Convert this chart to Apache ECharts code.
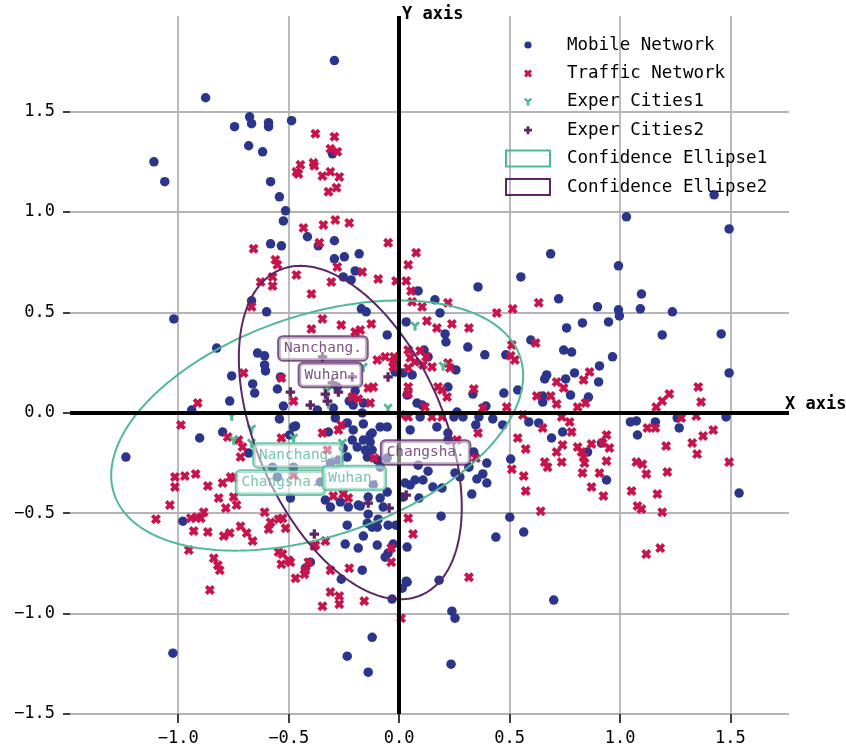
<!DOCTYPE html>
<html><head><meta charset="utf-8">
<script src="https://cdn.jsdelivr.net/npm/echarts@6/dist/echarts.min.js"></script>
<style>html,body{margin:0;padding:0;background:#fff}#c{width:846px;height:750px}</style>
</head><body><div id="c"></div><script>
// ---- tick labels ----
const xTicks = [-1.0, -0.5, 0.0, 0.5, 1.0, 1.5];
const yTicks = [-1.5, -1.0, -0.5, 0.0, 0.5, 1.0, 1.5];
const seriesNames = ['Mobile Network','Traffic Network','Exper Cities1','Exper Cities2','Confidence Ellipse1','Confidence Ellipse2'];

// ---- series values [x, y] ----
const mobileNetwork = [[-0.293,1.753],[-0.876,1.568],[-1.110,1.249],[-1.061,1.150],[-0.677,1.473],[-0.745,1.424],[-0.668,1.439],[-0.591,1.444],[-0.591,1.424],[-0.487,1.454],[-0.681,1.329],[-0.618,1.299],[-0.302,1.289],[-0.582,1.150],[-0.542,1.075],[-0.514,1.005],[-0.524,0.955],[-0.415,0.876],[-0.293,0.856],[-0.582,0.841],[-0.533,0.831],[-0.366,0.831],[1.426,1.085],[1.029,0.975],[1.494,0.915],[0.686,0.791],[0.993,0.731],[0.551,0.676],[0.357,0.626],[0.722,0.567],[1.097,0.591],[1.092,0.517],[0.993,0.512],[0.997,0.482],[1.237,0.502],[0.162,0.562],[0.185,0.497],[0.898,0.527],[0.830,0.447],[0.948,0.452],[0.758,0.422],[1.191,0.387],[1.458,0.392],[0.596,0.362],[0.208,0.392],[0.212,0.352],[0.311,0.327],[0.388,0.288],[0.483,0.288],[0.745,0.312],[0.781,0.302],[0.966,0.278],[1.494,0.198],[0.907,0.233],[0.794,0.198],[0.668,0.188],[0.659,0.168],[0.754,0.168],[0.903,0.153],[0.257,0.213],[0.221,0.128],[0.334,0.093],[0.474,0.098],[0.537,0.113],[0.776,0.088],[0.857,0.078],[0.650,0.083],[0.650,0.053],[0.393,0.033],[0.262,0.003],[0.289,-0.021],[0.361,-0.021],[0.424,-0.031],[0.469,-0.061],[0.347,-0.061],[0.248,-0.021],[0.171,-0.071],[0.221,-0.101],[0.104,0.038],[0.095,-0.021],[0.587,-0.046],[0.632,-0.051],[1.047,-0.046],[1.074,-0.041],[1.160,-0.046],[1.079,-0.111],[1.259,-0.026],[1.268,-0.076],[1.480,-0.021],[0.740,-0.096],[0.690,-0.126],[0.853,-0.196],[0.916,-0.151],[0.505,-0.231],[0.397,-0.251],[0.338,-0.196],[0.379,-0.305],[0.352,-0.330],[0.397,-0.350],[0.253,-0.300],[0.131,-0.291],[0.108,-0.335],[0.153,-0.370],[0.194,-0.375],[0.329,-0.405],[0.939,-0.335],[1.539,-0.400],[0.086,0.606],[0.032,0.452],[0.059,0.188],[0.018,0.198],[0.081,0.048],[0.050,-0.086],[0.113,0.312],[0.131,0.278],[0.564,-0.594],[0.438,-0.619],[0.501,-0.520],[0.190,-0.515],[0.316,-0.271],[0.275,-0.320],[0.072,-0.335],[0.050,-0.360],[0.090,-0.425],[0.086,-0.261],[0.036,-0.669],[0.036,-0.844],[0.181,-0.834],[0.239,-0.988],[0.253,-1.023],[0.221,-0.136],[0.700,-0.933],[0.235,-1.252],[-0.979,-0.540],[-1.024,-1.197],[-0.235,-1.212],[-0.140,-1.292],[-0.122,-1.118],[-0.032,-0.928],[0.014,-0.874],[0.032,-0.839],[-0.167,-0.784],[-0.262,-0.829],[-0.185,-0.674],[-0.244,-0.654],[-0.162,-0.614],[-0.027,-0.654],[-0.050,-0.699],[-0.063,-0.719],[-0.235,-0.560],[-0.140,-0.505],[-0.144,-0.550],[-0.122,-0.570],[-0.099,-0.570],[-0.095,-0.530],[-0.014,-0.560],[-0.072,-0.470],[-0.185,-0.460],[-0.230,-0.470],[-0.311,-0.470],[-0.402,-0.744],[-0.424,-0.774],[-0.190,-0.171],[-0.153,-0.186],[-0.122,-0.186],[-0.144,-0.221],[-0.099,-0.236],[-0.054,-0.226],[-0.253,-0.176],[-0.235,-0.221],[-0.212,-0.136],[-0.162,-0.136],[-0.131,-0.146],[-0.054,-0.395],[-0.086,-0.425],[-0.140,-0.420],[-0.176,-0.465],[-0.334,-0.435],[-0.266,-0.445],[-0.050,-0.560],[-0.099,-0.659],[-0.275,-0.236],[-0.478,-0.271],[-0.357,-0.345],[-1.020,0.467],[-0.826,0.322],[-1.237,-0.221],[-0.939,0.013],[-0.903,-0.126],[-0.799,-0.096],[-0.767,0.058],[-0.758,0.183],[-0.668,0.557],[-0.600,0.502],[-0.641,0.297],[-0.609,0.283],[-0.609,0.238],[-0.605,0.208],[-0.663,0.143],[-0.654,0.098],[-0.551,0.118],[-0.537,0.178],[-0.524,0.033],[-0.542,-0.031],[-0.478,-0.071],[-0.496,-0.111],[-0.681,-0.201],[-0.054,0.387],[-0.171,0.517],[-0.149,0.502],[-0.199,0.706],[-0.181,0.791],[-0.248,0.776],[-0.293,0.766],[-0.253,0.676],[-0.217,0.661],[-0.199,0.108],[-0.226,0.058],[-0.018,0.203],[0.036,0.088],[-0.023,0.248],[-0.370,0.013],[-0.298,0.023],[-0.289,-0.026],[-0.235,-0.051],[-0.167,-0.001],[-0.086,-0.071],[-0.054,-0.071],[-0.122,-0.101],[-0.208,0.038],[-0.162,0.048],[-0.280,0.128],[-0.469,-0.066],[-0.320,-0.096],[-0.208,-0.086],[-0.162,-0.056],[-0.131,-0.111],[-0.086,-0.271],[-0.117,-0.360],[0.018,-0.420],[0.027,-0.350],[-0.573,-0.271],[-0.551,-0.320],[-0.311,-0.251],[-0.492,-0.425]];

const trafficNetwork = [[-0.379,1.389],[-0.293,1.374],[-0.311,1.314],[-0.280,1.299],[-0.447,1.234],[-0.465,1.199],[-0.456,1.189],[-0.388,1.244],[-0.384,1.229],[-0.347,1.179],[-0.311,1.199],[-0.271,1.174],[-0.320,1.100],[-0.284,1.120],[-0.289,0.960],[-0.226,0.945],[-0.343,0.935],[-0.433,0.920],[-0.361,0.846],[-0.050,0.846],[-0.659,0.816],[-0.560,0.761],[-0.551,0.736],[-0.573,0.676],[-0.627,0.651],[-0.573,0.631],[-0.465,0.686],[-0.307,0.651],[-0.397,0.591],[-0.280,0.726],[-0.167,0.701],[-0.095,0.666],[-0.014,0.656],[0.032,0.656],[0.041,0.736],[-0.668,0.527],[-0.347,0.467],[-0.397,0.417],[-0.262,0.437],[-0.126,0.442],[-0.199,0.402],[-0.176,0.412],[-0.099,0.263],[-0.063,0.278],[-0.023,0.278],[-0.027,0.253],[-0.027,0.228],[0.041,0.312],[0.050,0.273],[0.072,0.253],[0.041,0.223],[-0.704,0.198],[-0.533,0.173],[-0.140,0.123],[-0.117,0.128],[-0.212,0.078],[-0.185,0.068],[-0.131,0.048],[-0.912,0.048],[-0.988,-0.061],[-0.478,0.058],[-0.262,-0.061],[-0.275,-0.086],[-0.347,-0.101],[0.041,0.093],[0.009,-0.011],[-0.776,-0.121],[-0.727,-0.136],[-0.709,-0.171],[-0.718,-0.221],[-0.533,-0.126],[-1.015,-0.320],[-1.015,-0.370],[-0.970,-0.315],[-0.921,-0.305],[-0.866,-0.365],[-0.817,-0.425],[-0.763,-0.320],[-0.799,-0.350],[-0.749,-0.325],[-0.749,-0.420],[-0.785,-0.475],[-0.736,-0.460],[-1.038,-0.460],[-1.101,-0.530],[-0.943,-0.525],[-0.916,-0.520],[-0.898,-0.525],[-0.885,-0.495],[-0.930,-0.589],[-0.866,-0.594],[-0.794,-0.614],[-0.767,-0.599],[-0.718,-0.565],[-0.690,-0.599],[-0.663,-0.639],[-0.609,-0.495],[-0.582,-0.545],[-0.591,-0.580],[-0.546,-0.530],[-0.952,-0.684],[-0.839,-0.724],[-0.821,-0.759],[-0.812,-0.784],[-0.857,-0.883],[-0.546,-0.694],[-0.528,-0.704],[-0.533,-0.754],[-0.492,-0.744],[-0.469,-0.824],[-0.429,-0.804],[-0.384,-0.664],[-0.334,-0.639],[-0.311,-0.784],[-0.226,-0.774],[-0.311,-0.893],[-0.271,-0.913],[-0.271,-0.953],[-0.347,-0.963],[-0.158,-0.938],[-0.036,-0.674],[-0.036,-0.744],[0.063,-0.604],[0.041,-0.525],[0.009,-1.023],[-0.298,-0.415],[-0.253,-0.405],[-0.230,-0.425],[-0.514,-0.575],[-0.528,-0.525],[-0.379,-0.659],[-0.501,-0.734],[-0.411,-0.744],[-0.424,-0.784],[-0.325,-0.186],[-0.478,-0.310],[-0.113,-0.226],[0.077,0.796],[0.054,0.606],[0.059,0.552],[0.104,0.527],[0.221,0.547],[0.126,0.457],[0.171,0.422],[0.239,0.442],[0.316,0.422],[0.442,0.497],[0.514,0.517],[0.095,0.307],[0.122,0.278],[0.108,0.238],[0.149,0.228],[0.221,0.248],[0.230,0.223],[0.510,0.337],[0.505,0.283],[0.524,0.263],[0.041,0.128],[0.176,0.128],[0.194,0.113],[0.217,0.078],[0.338,0.118],[0.117,0.028],[0.379,0.023],[0.487,0.028],[0.560,-0.011],[0.041,-0.021],[0.149,-0.021],[0.194,-0.021],[0.357,-0.101],[0.632,0.547],[0.618,0.347],[0.862,0.203],[0.835,0.163],[0.713,0.153],[0.745,0.123],[0.623,0.083],[0.686,0.083],[0.713,0.043],[0.808,0.028],[0.844,0.048],[1.223,0.093],[1.191,0.058],[1.164,0.028],[1.354,0.128],[1.367,0.053],[1.277,-0.026],[1.345,-0.016],[0.736,-0.021],[0.772,-0.046],[0.650,-0.076],[0.537,-0.126],[0.573,-0.181],[0.781,-0.096],[0.740,-0.161],[0.713,-0.196],[0.808,-0.171],[0.826,-0.196],[0.871,-0.156],[0.921,-0.151],[0.939,-0.111],[0.952,-0.176],[0.939,-0.241],[0.835,-0.221],[0.839,-0.251],[0.830,-0.300],[0.736,-0.246],[0.659,-0.246],[0.672,-0.271],[0.510,-0.281],[0.564,-0.315],[0.573,-0.390],[0.871,-0.370],[0.907,-0.300],[0.925,-0.415],[1.052,-0.390],[1.074,-0.246],[1.101,-0.256],[1.119,-0.305],[1.124,-0.076],[1.160,-0.076],[1.209,-0.166],[1.214,-0.295],[1.169,-0.405],[1.327,-0.151],[1.349,-0.206],[1.376,-0.116],[1.422,-0.086],[1.494,-0.246],[0.641,-0.490],[1.079,-0.465],[1.097,-0.480],[1.191,-0.495],[1.119,-0.704],[1.182,-0.674],[0.316,-0.819],[0.262,-0.136],[0.347,-0.226]];

const experCities1 = [[0.072,0.432],[-0.162,0.228],[-0.325,0.108],[-0.320,0.043],[-0.758,-0.016],[-0.668,-0.081],[-0.478,-0.126],[-0.050,0.023],[-0.257,-0.151],[-0.749,-0.136],[-0.668,-0.151],[0.199,0.233]];
const experCities2 = [[-0.050,0.178],[-0.492,0.103],[-0.402,0.038],[-0.275,0.103],[-0.334,0.093],[-0.325,0.058],[-0.140,-0.450],[-0.045,-0.475],[-0.384,-0.604],[-0.302,0.148],[-0.347,0.278],[-0.212,0.178],[0.032,-0.410]];

// ---- confidence ellipses: center, semi-axes, rotation (deg) ----
const ellipseCx = [-0.371, -0.221];
const ellipseCy = [-0.064, -0.099];
const ellipseSemiMajor = [0.981, 0.871];
const ellipseSemiMinor = [0.543, 0.430];
const ellipseAngle = [21.9, -69.6];

// ---- city annotations ----
const cityNames1 = ['Nanchang.', 'Changsha.', 'Wuhan.'];
const cityX1 = [-0.458, -0.537, -0.203];
const cityY1 = [-0.213, -0.348, -0.325];
const cityNames2 = ['Nanchang.', 'Wuhan.', 'Changsha.'];
const cityX2 = [-0.345, -0.311, 0.120];
const cityY2 = [0.320, 0.188, -0.198];

// ---- styles ----
const C_NAVY = '#2b358c', C_RED = '#c8134b', C_GREEN = '#4fb894', C_PURPLE = '#5b2566';
const MONO = 'DejaVu Sans Mono';
const P_X = 'M0,2.7 L2.7,0 L5,2.3 L7.3,0 L10,2.7 L7.7,5 L10,7.3 L7.3,10 L5,7.7 L2.7,10 L0,7.3 L2.3,5 Z';
const P_Y = 'M0,2.1 L2.1,0 L5,2.9 L7.9,0 L10,2.1 L6.6,5.5 L6.6,10 L3.4,10 L3.4,5.5 Z';
const P_PLUS = 'M3.3,0 L6.7,0 L6.7,3.3 L10,3.3 L10,6.7 L6.7,6.7 L6.7,10 L3.3,10 L3.3,6.7 L0,6.7 L0,3.3 L3.3,3.3 Z';
const PAD = 'M-5,-5 M15,15 ';
const P_CIRC = 'M0.5,5 A4.5,4.5 0 1 1 9.5,5 A4.5,4.5 0 1 1 0.5,5 Z';

function ellipsePoints(i) {
  const th = ellipseAngle[i] * Math.PI / 180, pts = [];
  for (let k = 0; k <= 240; k++) {
    const t = k / 240 * 2 * Math.PI;
    const u = ellipseSemiMajor[i] * Math.cos(t), v = ellipseSemiMinor[i] * Math.sin(t);
    pts.push([ellipseCx[i] + u * Math.cos(th) - v * Math.sin(th), ellipseCy[i] + u * Math.sin(th) + v * Math.cos(th)]);
  }
  return pts;
}
const fmt = v => v.toFixed(1).replace('-', '\u2212');
function labelSeries(names, xs, ys, color) {
  return {
    type: 'scatter', silent: true, z: 10, symbolSize: 0,
    data: names.map((n, i) => ({ name: n, value: [xs[i], ys[i]] })),
    label: { show: true, position: 'inside', formatter: p => p.name, color: color,
      fontFamily: MONO, fontSize: 14.4, lineHeight: 17,
      backgroundColor: 'rgba(255,255,255,0.62)', borderColor: color, borderWidth: 1.8,
      borderRadius: 4, padding: [3, 5] },
    emphasis: { disabled: true }
  };
}

const chart = echarts.init(document.getElementById('c'), null, { renderer: 'canvas' });
chart.setOption({
  animation: false,
  backgroundColor: '#fff',
  grid: { left: 70, right: 57, top: 16, bottom: 36, containLabel: false, outerBoundsMode: 'none' },
  xAxis: {
    type: 'value', min: -1.49, max: 1.765,
    axisLine: { show: false, onZero: false },
    axisTick: { show: true, length: 9, customValues: xTicks, lineStyle: { color: '#000', width: 1.5 } },
    axisLabel: { customValues: xTicks, formatter: fmt, margin: 16, color: '#000', fontFamily: MONO, fontSize: 17 },
    splitLine: { show: true, lineStyle: { color: '#b4b4b4', width: 1.8 } }
  },
  yAxis: {
    type: 'value', min: -1.5, max: 1.975,
    axisLine: { show: false, onZero: false },
    axisTick: { show: true, length: 7, customValues: yTicks, lineStyle: { color: '#000', width: 1.5 } },
    axisLabel: { customValues: yTicks, formatter: fmt, margin: 15, color: '#000', fontFamily: MONO, fontSize: 17 },
    splitLine: { show: true, lineStyle: { color: '#b4b4b4', width: 1.8 } }
  },
  legend: {
    orient: 'vertical', left: 505, top: 36, padding: 0, itemWidth: 44, itemHeight: 16, itemGap: 10.4,
    selectedMode: false,
    textStyle: { fontFamily: MONO, fontSize: 17.5, color: '#000', lineHeight: 16, padding: [0, 0, 0, 12] },
    data: [
      { name: seriesNames[0], icon: 'path://' + PAD + P_CIRC, itemStyle: { borderWidth: 0 } },
      { name: seriesNames[1], icon: 'path://' + PAD + P_X, itemStyle: { borderWidth: 0 } },
      { name: seriesNames[2], icon: 'path://' + PAD + P_Y, itemStyle: { borderWidth: 0 } },
      { name: seriesNames[3], icon: 'path://' + PAD + P_PLUS, itemStyle: { borderWidth: 0 } },
      { name: seriesNames[4], icon: 'rect', itemStyle: { color: 'rgba(255,255,255,0)', borderColor: C_GREEN, borderWidth: 2 } },
      { name: seriesNames[5], icon: 'rect', itemStyle: { color: 'rgba(255,255,255,0)', borderColor: C_PURPLE, borderWidth: 2 } }
    ]
  },
  graphic: [
    { type: 'text', left: 402, top: 6, z: 100, style: { text: 'Y axis', font: 'bold 17px "DejaVu Sans Mono"', fill: '#000' } },
    { type: 'text', left: 785, top: 396, z: 100, style: { text: 'X axis', font: 'bold 17px "DejaVu Sans Mono"', fill: '#000' } }
  ],
  series: [
    { name: seriesNames[0], type: 'scatter', data: mobileNetwork, symbol: 'circle', symbolSize: 9.5,
      itemStyle: { color: C_NAVY, opacity: 1 }, emphasis: { disabled: true }, z: 2 },
    { name: seriesNames[1], type: 'scatter', data: trafficNetwork, symbol: 'path://' + P_X, symbolSize: 10,
      itemStyle: { color: C_RED, opacity: 1 }, emphasis: { disabled: true }, z: 2 },
    { name: seriesNames[2], type: 'scatter', data: experCities1, symbol: 'path://' + P_Y, symbolSize: 9.5,
      itemStyle: { color: C_GREEN, opacity: 1 }, emphasis: { disabled: true }, z: 2 },
    { name: seriesNames[3], type: 'scatter', data: experCities2, symbol: 'path://' + P_PLUS, symbolSize: 9.5,
      itemStyle: { color: C_PURPLE, opacity: 1 }, emphasis: { disabled: true }, z: 2 },
    { name: seriesNames[4], type: 'line', data: ellipsePoints(0), showSymbol: false, symbol: 'none',
      lineStyle: { color: C_GREEN, width: 2 }, itemStyle: { color: C_GREEN }, emphasis: { disabled: true }, z: 3 },
    { name: seriesNames[5], type: 'line', data: ellipsePoints(1), showSymbol: false, symbol: 'none',
      lineStyle: { color: C_PURPLE, width: 2 }, itemStyle: { color: C_PURPLE }, emphasis: { disabled: true }, z: 3 },
    { name: 'spines', type: 'line', data: [], z: 5, silent: true,
      markLine: { silent: true, symbol: ['none', 'none'], label: { show: false }, animation: false,
        lineStyle: { color: '#000', width: 4, type: 'solid' }, emphasis: { disabled: true },
        data: [{ xAxis: 0 }, { yAxis: 0 }] } },
    labelSeries(cityNames1, cityX1, cityY1, C_GREEN),
    labelSeries(cityNames2, cityX2, cityY2, C_PURPLE)
  ]
});
</script></body></html>
